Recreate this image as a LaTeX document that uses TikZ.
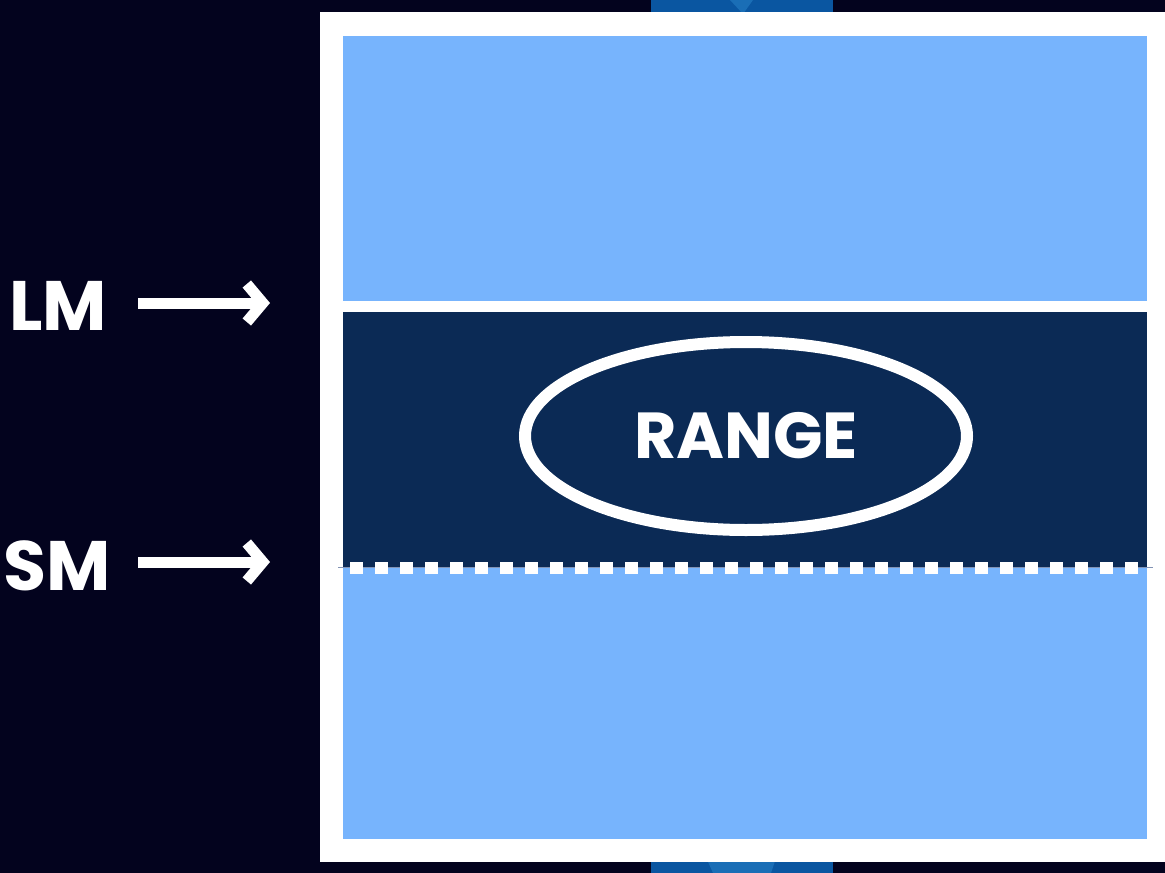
\documentclass[tikz,border=0pt]{standalone}
\usepackage{fontspec}
\setmainfont{Poppins}
\usetikzlibrary{shapes.geometric,arrows.meta}
\definecolor{night}{HTML}{03031E}
\definecolor{sky}{HTML}{77B4FD}
\definecolor{band}{HTML}{0B2A55}
\definecolor{strip}{HTML}{0A56A1}
\definecolor{stripmid}{HTML}{1A6EB6}
\definecolor{seam}{HTML}{8293B4}
\begin{document}
\begin{tikzpicture}[x=1pt,y=-1pt,
  label/.style={text=white,font=\fontsize{70}{70}\selectfont\bfseries,inner sep=0pt},
  pointer/.style={draw=white,line width=11pt,
    -{Straight Barb[length=16pt,width=38pt,line join=miter,line cap=butt]}},
  zone/.style={fill=sky}]
% canvas
\fill[night] (0,0) rectangle (1165,873);
\useasboundingbox (0,0) rectangle (1165,873);
% blue tabs peeking out above and below the frame
\fill[strip] (651,0) rectangle (833,20);
\fill[stripmid] (730,0) -- (753,0) -- (743,14) -- cycle;
\fill[strip] (651,855) rectangle (833,873);
\fill[stripmid] (705,855) -- (777,855) -- (771,873) -- (713,873) -- cycle;
% white frame
\fill[white] (320,12) rectangle (1165,862);
% zones
\fill[zone] (343,36) rectangle (1147,301);
\fill[band] (343,312) rectangle (1147,567);
\fill[zone] (343,567) rectangle (1147,839);
% seam and dashed boundary
\draw[seam,line width=1.2pt] (338,567.5) -- (1153,567.5);
\draw[white,line width=12pt,dash pattern=on 12.5pt off 12.5pt] (350,567.5) -- (1140,567.5);
% range ellipse
\node[ellipse,draw=white,line width=12pt,minimum width=442pt,minimum height=188pt,
  inner sep=0pt,text=white,font=\fontsize{65}{65}\selectfont\bfseries] (range) at (746,436) {RANGE};
% labels and pointers
\node[label] (lm) at (58,306) {LM};
\node[label] (sm) at (57,566) {SM};
\coordinate (lmtip) at (270,303);
\coordinate (smtip) at (270,562);
\draw[pointer] (138,303) -- (lmtip);
\draw[pointer] (138,562) -- (smtip);
\end{tikzpicture}
\end{document}
